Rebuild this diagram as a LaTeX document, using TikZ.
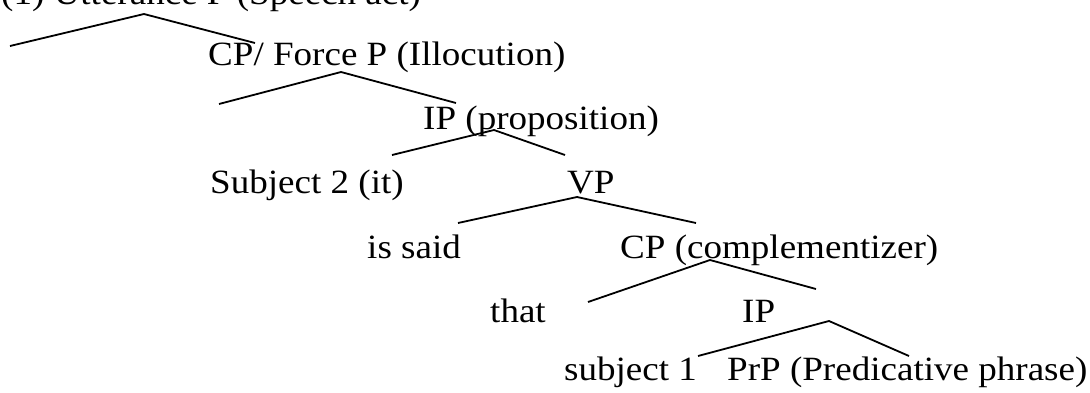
\documentclass[tikz,border=0pt]{standalone}
\usepackage{graphicx}
\usepackage{fontspec}
\setmainfont{Liberation Serif}
\newcommand{\sx}[1]{\scalebox{1.09}[1]{#1}}
\begin{document}
\begin{tikzpicture}[x=1pt,y=-1pt,
  lab/.style={anchor=base west, inner sep=0pt, font=\fontsize{34}{40}\selectfont},
  br/.style={line width=1.8pt, line join=miter}]
\useasboundingbox (0,0) rectangle (1090,392);
\clip (0,0) rectangle (1090,392);
% labels
\node[lab] (utt)    at (1,4)     {\sx{(1) Utterance P (Speech act)}};
\node[lab] (cp)     at (208,65)  {\sx{CP/ Force P (Illocution)}};
\node[lab] (ip)     at (423,129) {\sx{IP (proposition)}};
\node[lab] (subj2)  at (210,193) {\sx{Subject 2 (it)}};
\node[lab] (vp)     at (567,193) {\sx{VP}};
\node[lab] (issaid) at (367,258) {\sx{is said}};
\node[lab] (cpc)    at (620,258) {\sx{CP (complementizer)}};
\node[lab] (that)   at (490,322) {\sx{that}};
\node[lab] (ipb)    at (742,322) {\sx{IP}};
\node[lab] (subj1)  at (564,380) {\sx{subject 1}};
\node[lab] (prp)    at (727,380) {\sx{PrP (Predicative phrase)}};
% branch points
\coordinate (aL) at (10,46);   \coordinate (aT) at (144,14);  \coordinate (aR) at (255,43);
\coordinate (bL) at (219,104); \coordinate (bT) at (341,72);  \coordinate (bR) at (456,103);
\coordinate (cL) at (392,155); \coordinate (cT) at (494,130); \coordinate (cR) at (565,155);
\coordinate (dL) at (458,223); \coordinate (dT) at (577,197); \coordinate (dR) at (696,223);
\coordinate (eL) at (588,302); \coordinate (eT) at (710,260); \coordinate (eR) at (816,289);
\coordinate (fL) at (698,356); \coordinate (fT) at (829,321); \coordinate (fR) at (909,356);
% branches
\draw[br] (aL) -- (aT) -- (aR);
\draw[br] (bL) -- (bT) -- (bR);
\draw[br] (cL) -- (cT) -- (cR);
\draw[br] (dL) -- (dT) -- (dR);
\draw[br] (eL) -- (eT) -- (eR);
\draw[br] (fL) -- (fT) -- (fR);
\end{tikzpicture}
\end{document}
